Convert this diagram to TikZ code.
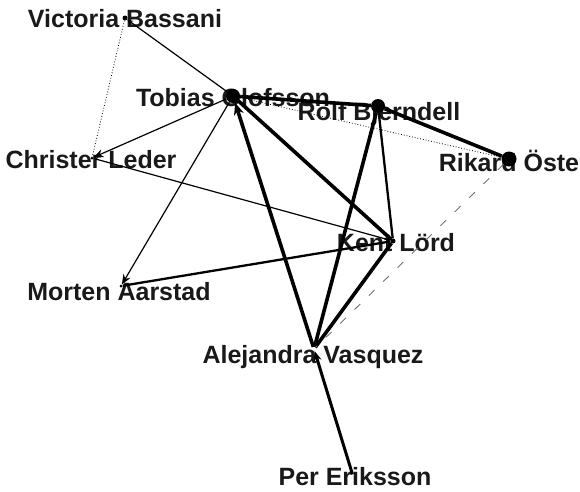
\documentclass[tikz,border=0pt]{standalone}
\usepackage{fontspec}
\setmainfont{Liberation Sans}
\usetikzlibrary{arrows.meta,backgrounds}

\begin{document}
\begin{tikzpicture}[
  x=1pt, y=-1pt, >={Stealth[length=10pt,width=8pt]},
  person/.style={circle, fill=black, inner sep=0pt, minimum size=#1},
  person/.default=3pt,
  lbl/.style={font=\fontsize{25}{25}\selectfont\bfseries, text=black!90, inner sep=0pt, text height=17pt, text depth=0pt},
  weaktie/.style={line width=1.2pt, black},
  midtie/.style={line width=2.3pt, black},
  strongtie/.style={line width=3.6pt, black},
  dottie/.style={line width=0.8pt, black, dotted},
  dashtie/.style={line width=0.9pt, black!55, dash pattern=on 8pt off 12pt}
]
\useasboundingbox (0,0) rectangle (580,491);

\node[person=5pt] (vic) at (125,18) {};
\node[person=14pt] (tob) at (233,96) {};
\node[person=14pt] (rol) at (378,106) {};
\node[person=15pt] (rik) at (509,159) {};
\node[person=3pt] (chr) at (92,158) {};
\node[person=5pt] (ken) at (393,241) {};
\node[person=3pt] (mor) at (121,286) {};
\node[person=4pt, fill=none] (ale) at (314,349) {};
\node[person=3pt, fill=none] (per) at (353,476) {};

% labels sit under the ties
\begin{scope}[on background layer]
\node[lbl] (vicL) at (125,19) {Victoria Bassani};
\node[lbl] (tobL) at (233,98) {Tobias Olofsson};
\node[lbl] (rolL) at (379,112) {Rolf Bjerndell};
\node[lbl] (rikL) at (509,163) {Rikard Öste};
\node[lbl] (chrL) at (91,160) {Christer Leder};
\node[lbl] (kenL) at (396,243) {Kent Lörd};
\node[lbl] (morL) at (119,292) {Morten Aarstad};
\node[lbl] (aleL) at (313,355) {Alejandra Vasquez};
\node[lbl] (perL) at (355,477) {Per Eriksson};
\end{scope}

\draw[weaktie, ->, >={Stealth[length=6pt,width=5pt]}] (tob) -- (vic);
\draw[dottie] (vic) -- (chr);
\draw[weaktie, ->] (tob) -- (chr);
\draw[weaktie, ->] (tob) -- (mor);
\draw[weaktie] (ken) -- (chr);
\draw[midtie] (ken) -- (mor);
\draw[strongtie] (tob) -- (rol);
\draw[dottie] (tob) -- (rik);
\draw[strongtie] (rol) -- (rik);
\draw[strongtie] (ken) -- (tob);
\draw[midtie] (rol) -- (ken);
\draw[strongtie] (rol) -- (ale);
\draw[strongtie] (ken) -- (ale);
\draw[strongtie, ->, >={Stealth[length=12pt,width=10pt]}] (ale) -- (tob);
\draw[midtie, line width=3pt, ->] (per) -- (ale);
\draw[dashtie] (rik) -- (ale);

\end{tikzpicture}
\end{document}
